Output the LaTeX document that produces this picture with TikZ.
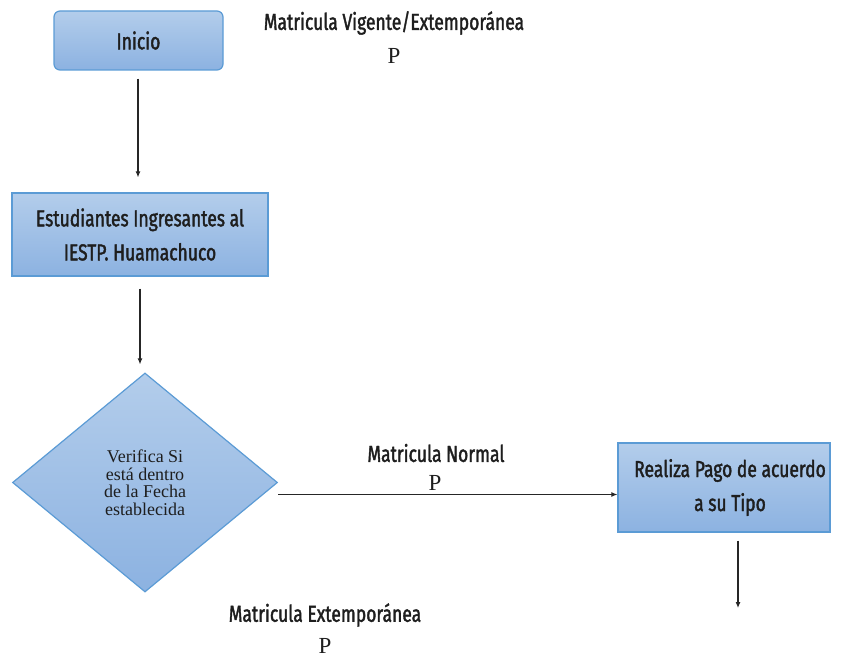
\documentclass[tikz,border=0pt]{standalone}
\usepackage{fontspec}
\setmainfont{Liberation Serif}
\newfontfamily\labfont[FakeStretch=0.76,FakeBold=1.6]{Fira Sans}
\usetikzlibrary{shapes.geometric,arrows.meta}
\definecolor{boxtop}{HTML}{B3CDEB}
\definecolor{boxbot}{HTML}{8CB2E1}
\definecolor{boxline}{HTML}{5B9BD5}
\definecolor{txt}{HTML}{1E1E1E}
\begin{document}
\begin{tikzpicture}[x=1pt,y=-1pt,
  stepbox/.style={draw=boxline,line width=1.2pt,top color=boxtop,bottom color=boxbot,
    align=center,text=txt,font=\labfont\fontsize{23}{34}\selectfont,inner sep=0pt},
  roundbox/.style={stepbox,rounded corners=6pt},
  decision/.style={diamond,draw=boxline,line width=1.2pt,top color=boxtop,bottom color=boxbot,
    align=center,text=txt,font=\fontsize{18}{17.5}\selectfont,inner sep=0pt},
  lab/.style={text=txt,font=\labfont\fontsize{23}{25}\selectfont,inner sep=0pt},
  pchar/.style={text=txt,font=\fontsize{23}{24}\selectfont,inner sep=0pt},
  arr/.style={draw=black!85,line width=1.1pt,-{Latex[length=6pt,width=5pt]}}]
\useasboundingbox (0,0) rectangle (843,660);

% process steps
\node[roundbox,minimum width=169pt,minimum height=59pt] (inicio) at (138.5,40.5) {Inicio};
\node[stepbox,minimum width=256pt,minimum height=83pt] (estud) at (140,234.5)
  {Estudiantes Ingresantes al\\IESTP. Huamachuco};
\node[decision,minimum width=265pt,minimum height=219pt] (verif) at (145,482.5)
  {Verifica Si\\está dentro\\de la Fecha\\establecida};
\node[stepbox,minimum width=212pt,minimum height=89pt] (pago) at (724,487.5)
  {\hspace*{12pt}Realiza Pago de acuerdo\\\hspace*{12pt}a su Tipo};

% labels
\node[lab] (hdr) at (394,23) {Matricula Vigente/Extemporánea};
\node[pchar] (hdrp) at (394,56) {P};
\node[lab] (normal) at (436,453) {Matricula Normal};
\node[pchar] (normalp) at (435,483) {P};
\node[lab] (extem) at (325,615) {Matricula Extemporánea};
\node[pchar] (extemp) at (325,646) {P};

% connectors
\coordinate (fin) at (738,608);
\coordinate (down1) at (138,0);
\coordinate (down2) at (140,0);
\draw[arr] ([yshift=-8pt]inicio.south -| down1) -- ([yshift=15pt]estud.north -| down1);
\draw[arr] ([yshift=-12pt]estud.south -| down2) -- ([yshift=8pt]verif.north -| down2);
\draw[arr] ([yshift=-12pt]verif.east) -- ([yshift=-12pt]verif.east -| pago.west);
\draw[arr] ([yshift=-8pt]pago.south -| fin) -- (fin);
\end{tikzpicture}
\end{document}
